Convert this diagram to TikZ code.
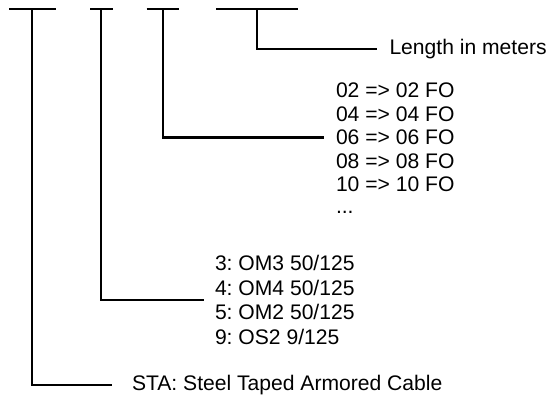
\documentclass[tikz,border=0pt]{standalone}
\usepackage{fontspec}
\setmainfont{Liberation Sans}
\usepackage{tikz}
\usetikzlibrary{positioning}
\frenchspacing
\tikzset{
    codebar/.style={draw=black,line width=2.1pt},
    legline/.style={draw=black,line width=2.1pt},
    codetext/.style={inner sep=0pt,outer sep=0pt,anchor=west,align=left,
      text=black,font=\fontsize{21.1}{23.4}\selectfont}
}

\begin{document}
\begin{tikzpicture}[x=1pt,y=-1pt]
  \useasboundingbox (0,0) rectangle (549,396);
  % the four code fields
  \coordinate (t1) at (31.7,9);
  \coordinate (t2) at (101,9);
  \coordinate (t3) at (162.7,9);
  \coordinate (t4) at (256.7,9);
  \draw[codebar] (9,9) -- (56,9);
  \draw[codebar] (90,9) -- (113.3,9);
  \draw[codebar] (146.7,9) -- (179.3,9);
  \draw[codebar] (216,9) -- (298.3,9);
  % what each field means
  \node[codetext] (len) at (389.5,49) {Length in meters};
  \node[codetext] (fo) at (336,137.5) {02 => 02 FO\\04 => 04 FO\\06 => 06 FO\\08 => 08 FO\\10 => 10 FO};
  \node[codetext,below=19.5pt of fo.south west,anchor=north west] (dots) {...};
  \node[codetext,font=\fontsize{21.1}{24.7}\selectfont] (om) at (215,300)
    {3: OM3 50/125\\4: OM4 50/125\\5: OM2 50/125\\9: OS2 9/125};
  \node[codetext] (sta) at (132,385) {STA: Steel Taped Armored Cable};
  \draw[legline,shorten >=13pt] (t4) |- (len);
  \draw[legline,shorten >=12pt] (t3) |- (fo);
  \draw[legline,shorten >=11pt] (t2) |- (om);
  \draw[legline,shorten >=20pt] (t1) |- (sta);
\end{tikzpicture}
\end{document}
